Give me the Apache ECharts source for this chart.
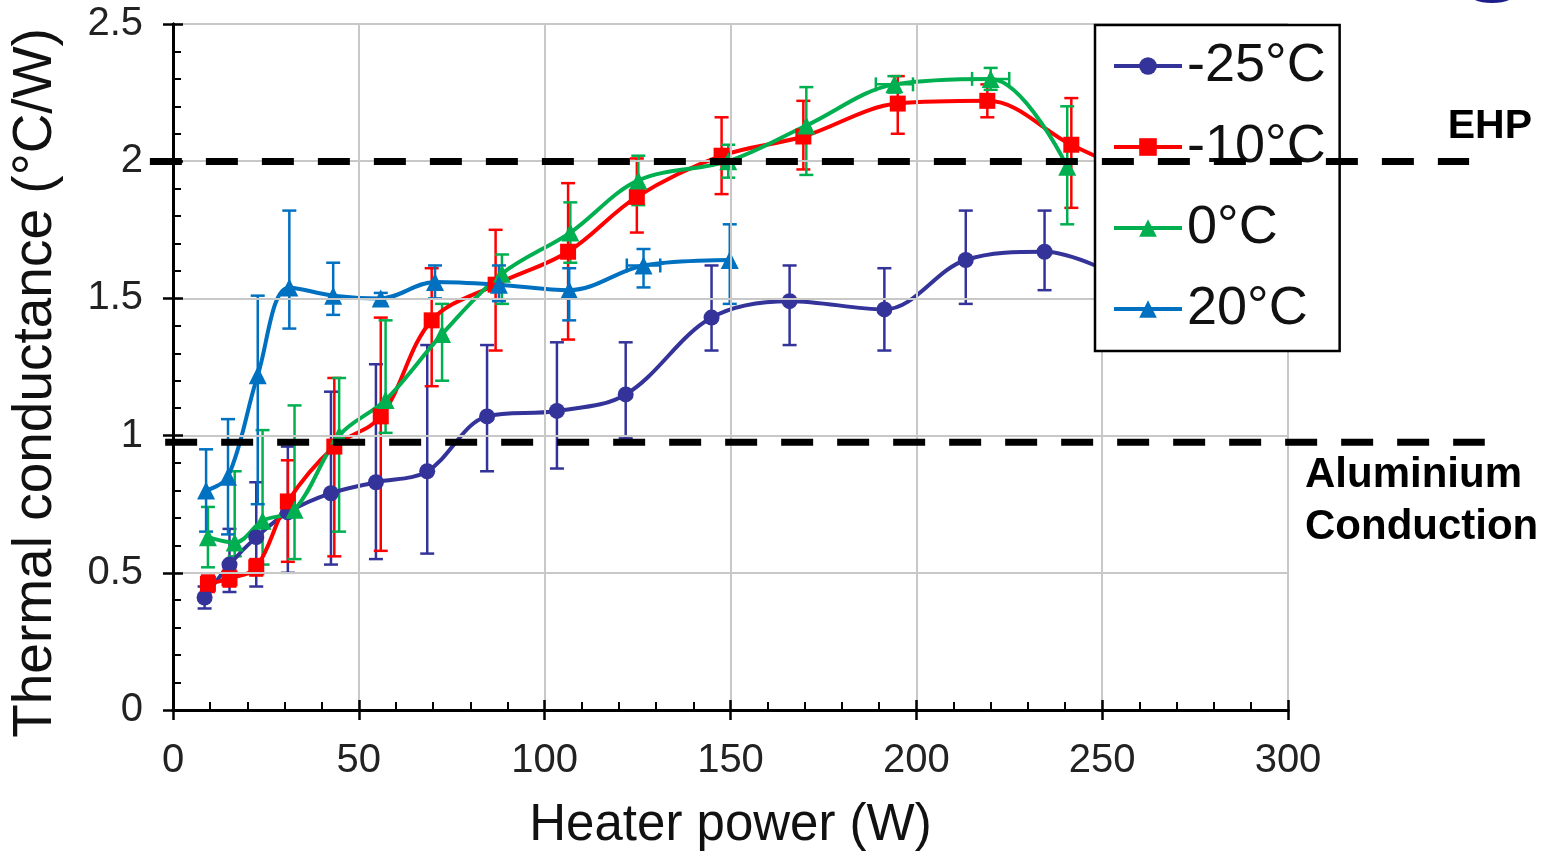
<!DOCTYPE html>
<html>
<head>
<meta charset="utf-8">
<script src="https://cdn.jsdelivr.net/npm/echarts@6/dist/echarts.min.js"></script>
<style>html,body{margin:0;padding:0;background:#fff;}#c{width:1550px;height:856px;}</style>
</head>
<body>
<div id="c"></div>
<script>
// ---- data ----
const names = ['-25°C', '-10°C', '0°C', '20°C'];
const colors = ['#333399', '#FF0000', '#00B050', '#0070C0'];

const x25 = [8.5, 15.2, 22.4, 30.9, 42.5, 54.6, 68.4, 84.5, 103.3, 121.8, 144.9, 165.9, 191.4, 213.3, 234.5, 256];
const y25 = [0.41, 0.53, 0.63, 0.72, 0.79, 0.83, 0.87, 1.07, 1.09, 1.15, 1.43, 1.49, 1.46, 1.64, 1.67, 1.57];
const lo25 = [0.37, 0.43, 0.45, 0.50, 0.53, 0.55, 0.57, 0.87, 0.88, 0.99, 1.31, 1.33, 1.31, 1.48, 1.53, 1.45];
const hi25 = [0.45, 0.66, 0.83, 0.96, 1.16, 1.26, 1.33, 1.33, 1.34, 1.34, 1.62, 1.62, 1.61, 1.82, 1.82, 1.70];
const xe25 = [0, 0, 0, 0, 0, 0, 0, 0, 0, 0, 0, 0, 0, 0, 0, 0];

const x10 = [9.4, 15.2, 22.4, 30.9, 43.4, 55.9, 69.6, 86.8, 106.3, 124.8, 147.6, 169.6, 195, 219.1, 241.7, 258];
const y10 = [0.46, 0.48, 0.52, 0.76, 0.96, 1.07, 1.42, 1.55, 1.67, 1.87, 2.02, 2.09, 2.21, 2.22, 2.06, 1.96];
const lo10 = [0.43, 0.45, 0.49, 0.54, 0.56, 0.58, 1.18, 1.31, 1.35, 1.74, 1.88, 1.97, 2.10, 2.16, 1.83, 1.90];
const hi10 = [0.49, 0.51, 0.55, 0.91, 1.21, 1.43, 1.61, 1.75, 1.92, 2.01, 2.16, 2.22, 2.31, 2.28, 2.23, 2.05];
const xe10 = [0, 0, 0, 0, 0, 0, 0, 0, 0, 0, 0, 0, 0, 0, 0, 0];

const x0 = [9.4, 16.6, 24.1, 32.7, 44.7, 57.2, 72.4, 88.5, 106.9, 125.2, 149.4, 170.4, 194.1, 220, 240.6];
const y0 = [0.63, 0.61, 0.69, 0.73, 1.00, 1.13, 1.37, 1.59, 1.74, 1.93, 2.00, 2.13, 2.28, 2.30, 1.98];
const lo0 = [0.52, 0.56, 0.53, 0.55, 0.65, 1.01, 1.20, 1.48, 1.63, 1.84, 1.94, 1.95, 2.25, 2.26, 1.77];
const hi0 = [0.74, 0.87, 1.02, 1.11, 1.21, 1.42, 1.48, 1.66, 1.85, 2.02, 2.06, 2.27, 2.31, 2.34, 2.20];
const xe0 = [0, 0, 0, 0, 0, 0, 0, 0, 0, 0, 0, 0, 5, 5, 0];

const x20 = [8.9, 14.8, 22.8, 31.3, 43.1, 55.9, 70.5, 87.7, 106.6, 126.6, 149.8];
const y20 = [0.80, 0.85, 1.22, 1.54, 1.51, 1.50, 1.56, 1.55, 1.53, 1.62, 1.64];
const lo20 = [0.65, 0.64, 0.75, 1.39, 1.44, 1.48, 1.50, 1.49, 1.42, 1.54, 1.48];
const hi20 = [0.95, 1.06, 1.51, 1.82, 1.63, 1.52, 1.62, 1.62, 1.61, 1.68, 1.77];
const xe20 = [0, 0, 0, 0, 0, 0, 0, 0, 0, 4.5, 0];

// reference lines (in heater-power units; they run past the plot edges)
const ehpX = [-5.4, 348.6];
const ehpY = 2.0;
const alX = [-1.3, 352.8];
const alY = 0.98;

const xTicks = { min: 0, max: 300, interval: 50 };
const yTicks = { min: 0, max: 2.5, interval: 0.5 };

// ---- layout ----
const W = 1550;
const G = { left: 170, right: 262, top: 24, bottom: 144 };
const pxPerUnit = (W - G.left - G.right) / (xTicks.max - xTicks.min);
const wideMin = xTicks.min - G.left / pxPerUnit;
const wideMax = xTicks.max + G.right / pxPerUnit;

const FONT = "'Liberation Sans', Arial, sans-serif";
const groups = [
  { x: x25, y: y25, lo: lo25, hi: hi25, xe: xe25, symbol: 'circle', size: 16 },
  { x: x10, y: y10, lo: lo10, hi: hi10, xe: xe10, symbol: 'rect', size: 16 },
  { x: x0, y: y0, lo: lo0, hi: hi0, xe: xe0, symbol: 'triangle', size: 18 },
  { x: x20, y: y20, lo: lo20, hi: hi20, xe: xe20, symbol: 'triangle', size: 18 }
];

function errRender(color) {
  return function (params, api) {
    const x = api.value(0), lo = api.value(1), hi = api.value(2), xe = api.value(3), y = api.value(4);
    const a = api.coord([x, lo]), b = api.coord([x, hi]);
    const cap = 7;
    const st = { stroke: color, lineWidth: 2.5 };
    const ch = [
      { type: 'line', shape: { x1: a[0], y1: a[1], x2: b[0], y2: b[1] }, style: st },
      { type: 'line', shape: { x1: a[0] - cap, y1: a[1], x2: a[0] + cap, y2: a[1] }, style: st },
      { type: 'line', shape: { x1: b[0] - cap, y1: b[1], x2: b[0] + cap, y2: b[1] }, style: st }
    ];
    if (xe > 0) {
      const l = api.coord([x - xe, y]), r = api.coord([x + xe, y]);
      ch.push({ type: 'line', shape: { x1: l[0], y1: l[1], x2: r[0], y2: r[1] }, style: st });
      ch.push({ type: 'line', shape: { x1: l[0], y1: l[1] - cap, x2: l[0], y2: l[1] + cap }, style: st });
      ch.push({ type: 'line', shape: { x1: r[0], y1: r[1] - cap, x2: r[0], y2: r[1] + cap }, style: st });
    }
    return { type: 'group', children: ch };
  };
}

const series = [];
groups.forEach((g, i) => {
  series.push({
    type: 'custom', name: names[i] + ' err', silent: true,
    xAxisIndex: 0, yAxisIndex: 0,
    renderItem: errRender(colors[i]),
    encode: { x: [0], y: [1, 2] },
    data: g.x.map((v, k) => [v, g.lo[k], g.hi[k], g.xe[k], g.y[k]]),
    z: 2
  });
  series.push({
    type: 'line', name: names[i], smooth: 0.35,
    xAxisIndex: 0, yAxisIndex: 0,
    symbol: g.symbol, symbolSize: g.size, showSymbol: true,
    itemStyle: { color: colors[i] },
    lineStyle: { color: colors[i], width: 4 },
    data: g.x.map((v, k) => [v, g.y[k]]),
    z: 2
  });
});
[[ehpX, ehpY, 'EHP'], [alX, alY, 'Al']].forEach(([xs, yv, nm]) => {
  series.push({
    type: 'line', name: nm, silent: true, symbol: 'none',
    xAxisIndex: 2, yAxisIndex: 2,
    lineStyle: { color: '#000', width: 7, type: [32, 24] },
    data: xs.map(v => [v, yv]), z: 10
  });
});

const chart = echarts.init(document.getElementById('c'), null, { renderer: 'canvas' });
const axLine = { show: true, lineStyle: { color: '#000', width: 3 } };
chart.setOption({
  animation: false,
  backgroundColor: '#fff',
  grid: [
    { left: G.left, right: G.right, top: G.top, bottom: G.bottom },
    { left: 0, right: 0, top: G.top, bottom: G.bottom }
  ],
  xAxis: [
    {
      type: 'value', gridIndex: 0, min: xTicks.min, max: xTicks.max, interval: xTicks.interval,
      name: 'Heater power (W)', nameLocation: 'middle', nameGap: 90,
      nameTextStyle: { fontSize: 51, fontFamily: FONT, color: '#111' },
      axisLine: axLine,
      axisTick: { show: true, inside: false, length: 10, lineStyle: { color: '#000', width: 2.5 } },
      axisLabel: { fontSize: 40, fontFamily: FONT, color: '#222', margin: 31 },
      splitLine: { show: true, lineStyle: { color: '#c8c8c8', width: 2 } },
      z: 3
    },
    {
      type: 'value', gridIndex: 0, min: xTicks.min, max: xTicks.max, interval: xTicks.interval, position: 'bottom',
      axisLine: axLine,
      axisTick: { show: true, inside: true, length: 10, lineStyle: { color: '#000', width: 2.5 } },
      minorTick: { show: true, splitNumber: 5, length: 8, lineStyle: { color: '#000', width: 2 } },
      axisLabel: { show: false }, splitLine: { show: false }, z: 3
    },
    {
      type: 'value', gridIndex: 1, min: wideMin, max: wideMax, show: false
    }
  ],
  yAxis: [
    {
      type: 'value', gridIndex: 0, min: yTicks.min, max: yTicks.max, interval: yTicks.interval,
      name: 'Thermal conductance (°C/W)', nameLocation: 'middle', nameGap: 110,
      nameTextStyle: { fontSize: 55, fontFamily: FONT, color: '#111', padding: [0, 32, 0, 0] },
      axisLine: axLine,
      axisTick: { show: true, inside: false, length: 10, lineStyle: { color: '#000', width: 2.5 } },
      axisLabel: { fontSize: 40, fontFamily: FONT, color: '#222', margin: 30 },
      splitLine: { show: true, lineStyle: { color: '#c8c8c8', width: 2 } },
      z: 3
    },
    {
      type: 'value', gridIndex: 0, min: yTicks.min, max: yTicks.max, interval: yTicks.interval, position: 'left',
      axisLine: axLine,
      axisTick: { show: true, inside: true, length: 10, lineStyle: { color: '#000', width: 2.5 } },
      minorTick: { show: true, splitNumber: 5, length: 8, lineStyle: { color: '#000', width: 2 } },
      axisLabel: { show: false }, splitLine: { show: false }, z: 3
    },
    {
      type: 'value', gridIndex: 1, min: yTicks.min, max: yTicks.max, show: false
    }
  ],
  legend: {
    data: names,
    orient: 'vertical', left: 1095, top: 25,
    backgroundColor: '#fff', borderColor: '#000', borderWidth: 2.5, borderRadius: 0,
    padding: [11, 14, 12, 17],
    itemWidth: 68, itemHeight: 22, itemGap: 21,
    lineStyle: { width: 4 },
    textStyle: { fontSize: 54, fontFamily: FONT, color: '#111', lineHeight: 60 },
    selectedMode: false, z: 5
  },
  graphic: [
    { type: 'ellipse', shape: { cx: 1492, cy: -5, rx: 22, ry: 8 }, style: { fill: '#1c1c8a' } },
    { type: 'text', right: 18, top: 106, style: { text: 'EHP', font: "bold 41px 'Liberation Sans', Arial", fill: '#000' } },
    { type: 'text', left: 1305, top: 449, style: { text: 'Aluminium\nConduction', font: "bold 42px 'Liberation Sans', Arial", fill: '#000', align: 'center', lineHeight: 52 } }
  ],
  series: series
});
</script>
</body>
</html>
